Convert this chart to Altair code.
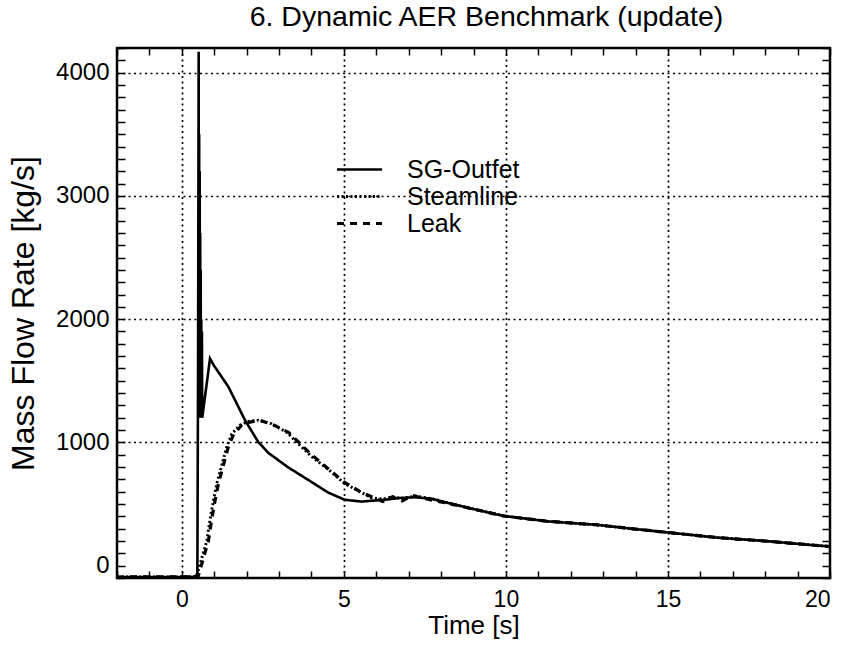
import altair as alt
import pandas as pd

# --- data ---
sg_t = [-2.0, 0.30, 0.44, 0.48, 0.50, 0.52, 0.527, 0.535, 0.545, 0.552, 0.56, 0.567, 0.575, 0.582,
        0.59, 0.60, 0.61, 0.62, 0.63, 0.87, 1.00, 1.44, 1.95, 2.36, 2.67, 3.28, 3.90, 4.51, 5.02,
        5.54, 6.26, 6.77, 7.18, 7.70, 8.72, 9.92, 11.28, 12.82, 13.85, 14.90, 16.51, 18.05, 20.0]
sg_v = [-92, -92, -85, -60, 1500, 4170, 1800, 3500, 1300, 3200, 1250, 2700, 1200, 2400,
        1250, 2000, 1250, 1900, 1200, 1680, 1620, 1450, 1180, 1003, 915, 798, 696, 594, 535,
        520, 535, 550, 555, 544, 476, 404, 360, 331, 301, 272, 228, 199, 155]

steam_t = [-2.0, 0.45, 0.55, 0.67, 0.77, 0.87, 0.97, 1.08, 1.23, 1.38, 1.54, 1.79, 2.05, 2.36,
           2.77, 3.28, 3.49, 4.00, 4.51, 5.02, 5.54, 5.85, 6.20, 6.50, 6.80, 7.20, 7.70,
           8.72, 9.92, 11.28, 12.82, 13.85, 14.90, 16.51, 18.05, 20.0]
steam_v = [-92, -90, 0, 111, 199, 374, 520, 667, 813, 959, 1068, 1139, 1170, 1180,
           1150, 1075, 1016, 886, 783, 667, 594, 550, 540, 558, 545, 565, 544,
           476, 404, 360, 331, 301, 272, 228, 199, 155]

leak_t = [-2.0, 0.50, 0.60, 0.72, 0.82, 0.92, 1.02, 1.13, 1.28, 1.43, 1.60, 1.85, 2.10, 2.40,
          2.85, 3.30, 4.00, 4.50, 5.00, 5.50, 5.90, 6.20, 6.50, 6.80, 7.10, 7.50,
          8.72, 9.92, 11.28, 12.82, 13.85, 14.90, 16.51, 18.05, 20.0]
leak_v = [-92, -90, 0, 111, 199, 374, 520, 667, 813, 959, 1068, 1139, 1165, 1180,
          1140, 1080, 900, 790, 680, 600, 555, 520, 560, 525, 570, 545,
          476, 404, 360, 331, 301, 272, 228, 199, 155]

series_names = ["SG-Outfet", "Steamline", "Leak"]
x_labels = [0, 5, 10, 15, 20]
y_labels = [0, 1000, 2000, 3000, 4000]
x_grid = [0, 5, 10, 15]
y_grid = [1000, 2000, 3000, 4000]
x_minor = list(range(-2, 21))
y_minor = list(range(-100, 4201, 100))

rows = []
for name, ts, vs in zip(series_names, [sg_t, steam_t, leak_t], [sg_v, steam_v, leak_v]):
    for i, (t, v) in enumerate(zip(ts, vs)):
        rows.append({"t": t, "v": v, "series": name, "order": i})
df = pd.DataFrame(rows)

W, H = 713, 530
FONT = "Liberation Sans"
xs = alt.Scale(domain=[-2, 20], nice=False, zero=False)
ys = alt.Scale(domain=[-100, 4200], nice=False, zero=False)

base = alt.Chart(df)

lines = base.mark_line(color="black", strokeCap="butt").encode(
    x=alt.X("t:Q", scale=xs,
            axis=alt.Axis(orient="bottom", values=x_labels, ticks=False, domain=False, grid=False,
                          labelFontSize=23, labelPadding=10, labelFont=FONT, labelColor="black",
                          title="Time [s]", titleFontSize=26, titleFont=FONT, titleFontWeight="normal",
                          titleColor="black", titlePadding=1)),
    y=alt.Y("v:Q", scale=ys,
            axis=alt.Axis(orient="left", values=y_labels, format="d", ticks=False, domain=False,
                          grid=False, labelFontSize=24, labelPadding=8, labelFont=FONT,
                          labelColor="black", title="Mass Flow Rate [kg/s]", titleFontSize=32,
                          titleFont=FONT, titleFontWeight="normal", titleColor="black",
                          titlePadding=15)),
    strokeDash=alt.StrokeDash("series:N",
                              scale=alt.Scale(domain=series_names, range=[[1, 0], [2, 2.5], [7, 6]]),
                              legend=alt.Legend(orient="none", legendX=218, legendY=108, title=None,
                                                labelFontSize=25, labelFont=FONT, labelColor="black",
                                                symbolType="stroke", symbolSize=2025,
                                                symbolStrokeColor="black", symbolStrokeWidth=2,
                                                labelOffset=23, clipHeight=27, rowPadding=0,
                                                padding=0)),
    strokeWidth=alt.StrokeWidth("series:N",
                                scale=alt.Scale(domain=series_names, range=[2.6, 3.2, 3.0]),
                                legend=None),
    detail="series:N",
    order="order:Q",
)

def ghost(xaxis, yaxis):
    return base.mark_line(opacity=0).encode(
        x=alt.X("t:Q", scale=xs, axis=xaxis),
        y=alt.Y("v:Q", scale=ys, axis=yaxis),
        detail="series:N",
        order="order:Q",
    )

# inward ticks on bottom and left edges
ticks_a = ghost(
    alt.Axis(orient="top", offset=-H, values=x_minor, ticks=True, tickSize=7, tickWidth=1.5,
             tickColor="black", labels=False, domain=False, grid=False, title=None),
    alt.Axis(orient="right", offset=-W, values=y_minor, ticks=True, tickSize=8, tickWidth=1.5,
             tickColor="black", labels=False, domain=False, grid=False, title=None),
)
# inward ticks on top and right edges
ticks_b = ghost(
    alt.Axis(orient="bottom", offset=-H, values=x_minor, ticks=True, tickSize=7, tickWidth=1.5,
             tickColor="black", labels=False, domain=False, grid=False, title=None),
    alt.Axis(orient="left", offset=-W, values=y_minor, ticks=True, tickSize=8, tickWidth=1.5,
             tickColor="black", labels=False, domain=False, grid=False, title=None),
)
# dotted grid
grid = ghost(
    alt.Axis(orient="bottom", values=x_grid, ticks=False, labels=False, domain=False, grid=True,
             gridDash=[2, 3.5], gridColor="black", gridWidth=1.7, gridOpacity=1, title=None),
    alt.Axis(orient="left", values=y_grid, ticks=False, labels=False, domain=False, grid=True,
             gridDash=[2, 3.5], gridColor="black", gridWidth=1.7, gridOpacity=1, title=None),
)

chart = alt.layer(grid, ticks_a, ticks_b, lines).resolve_axis(
    x="independent", y="independent"
).properties(
    width=W, height=H,
    title=alt.TitleParams("6. Dynamic AER Benchmark (update)", fontSize=28.5, font=FONT,
                          fontWeight="normal", color="black", anchor="middle",
                          baseline="alphabetic", offset=20, dy=28, dx=13),
    autosize=alt.AutoSizeParams(type="none"),
    padding={"left": 117, "top": 48, "right": 21, "bottom": 73},
    background="white",
).configure_view(stroke="black", strokeWidth=2.5)

chart.save("out.html", embed_options={"renderer": "svg", "actions": False})
